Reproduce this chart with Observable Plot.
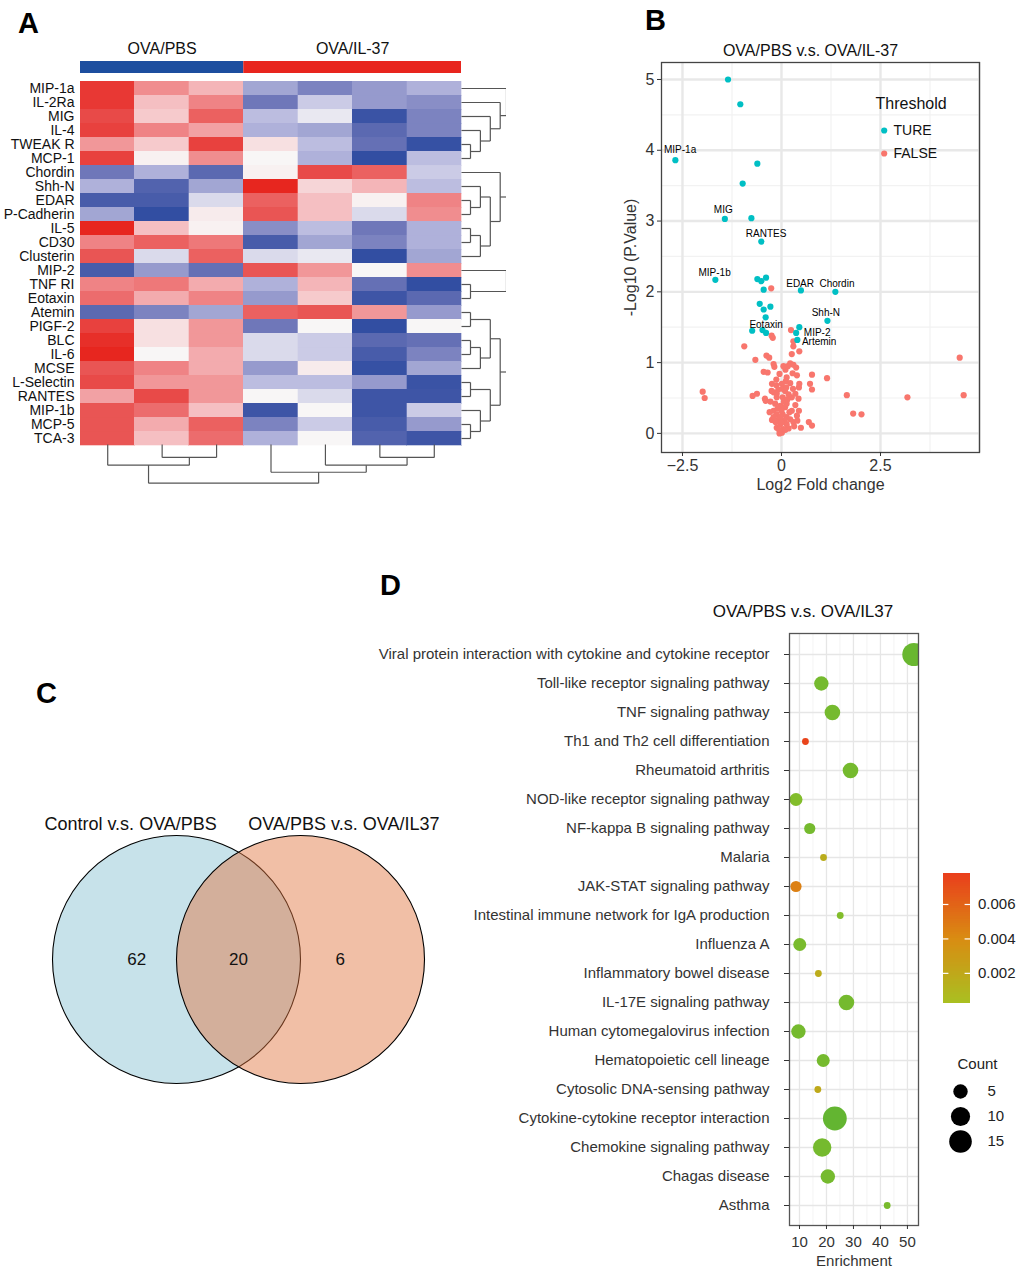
<!DOCTYPE html>
<html><head><meta charset="utf-8">
<script src="https://cdn.jsdelivr.net/npm/d3@7"></script>
<script src="https://cdn.jsdelivr.net/npm/@observablehq/plot@0.6"></script>
<style>
body{margin:0;background:#fff;}
#root{position:relative;width:1020px;height:1271px;overflow:hidden;background:#fff;font-family:"Liberation Sans",Arial,sans-serif;}
</style></head><body><div id="root"></div>
<script>
// ---------------- DATA ----------------
// Panel A: heatmap
const genes = ["MIP-1a","IL-2Ra","MIG","IL-4","TWEAK R","MCP-1","Chordin","Shh-N","EDAR","P-Cadherin","IL-5","CD30","Clusterin","MIP-2","TNF RI","Eotaxin","Atemin","PIGF-2","BLC","IL-6","MCSE","L-Selectin","RANTES","MIP-1b","MCP-5","TCA-3"];
const samples = ["1","2","3","4","5","6","7"];
const heatValues = [
  [1.8, 1.0, 0.6, -0.6, -0.9, -0.7, -0.5],
  [1.8, 0.5, 1.1, -1.0, -0.3, -0.7, -0.8],
  [1.6, 0.4, 1.4, -0.4, -0.1, -1.6, -0.9],
  [1.7, 1.1, 0.8, -0.5, -0.6, -1.2, -0.9],
  [0.9, 0.4, 1.7, 0.2, -0.4, -1.1, -1.7],
  [1.7, 0.05, 1.0, 0.0, -0.5, -1.8, -0.4],
  [-1.0, -0.5, -1.2, 0.05, 1.6, 1.4, -0.3],
  [-0.5, -1.3, -0.6, 2.0, 0.3, 0.6, -0.4],
  [-1.4, -1.4, -0.2, 1.4, 0.5, 0.05, 1.1],
  [-0.6, -1.8, 0.1, 1.5, 0.5, -0.2, 1.0],
  [2.0, 0.5, 0.05, -0.8, -0.4, -1.0, -0.5],
  [1.1, 1.4, 1.2, -1.4, -0.6, -0.9, -0.5],
  [1.5, -0.2, 1.4, -0.2, -0.1, -1.8, -0.6],
  [-1.4, -0.7, -1.1, 1.5, 0.9, 0.0, 1.0],
  [1.1, 1.2, 0.7, -0.5, 0.6, -1.1, -1.8],
  [1.3, 0.7, 1.1, -0.7, 0.4, -1.5, -1.2],
  [-1.2, -0.9, -0.6, 1.4, 1.5, 0.9, -0.7],
  [1.7, 0.2, 0.9, -1.0, 0.0, -1.8, 0.0],
  [1.9, 0.2, 0.9, -0.2, -0.3, -1.2, -1.1],
  [2.0, 0.0, 0.7, -0.2, -0.3, -1.4, -0.9],
  [1.5, 1.1, 0.7, -0.7, 0.1, -1.7, -0.6],
  [1.6, 0.9, 0.9, -0.4, -0.4, -0.7, -1.6],
  [0.8, 1.6, 0.9, 0.0, -0.2, -1.5, -1.5],
  [1.5, 1.3, 0.5, -1.5, 0.0, -1.5, -0.3],
  [1.5, 0.7, 1.4, -0.9, -0.3, -1.4, -0.7],
  [1.5, 0.5, 1.3, -0.5, 0.0, -1.3, -1.5]
];
const groupNames = ["OVA/PBS", "OVA/IL-37"];
const groupStart = [0, 3];
const groupEnd = [3, 7];
const groupColors = ["#1d4e9f", "#e8251e"];
// dendrograms: [height, left, right]
const rowTree = [6,
  [5.5, [5, "MIP-1a", [4.3, "IL-2Ra", [3.2, "MIG", [2.1, "IL-4", [1, "TWEAK R", "MCP-1"]]]]],
        [4.3, "Chordin", [3.2, [2.1, "Shh-N", [1, "EDAR", "P-Cadherin"]], [2.1, [1, "IL-5", "CD30"], "Clusterin"]]]],
  [5.5, [5, "MIP-2", [1, "TNF RI", "Eotaxin"]],
        [4.3, [3.2, [1, "Atemin", "PIGF-2"], [2.1, [1, "BLC", "IL-6"], "MCSE"]],
              [3.2, [1, "L-Selectin", "RANTES"], [2.1, "MIP-1b", [1, "MCP-5", "TCA-3"]]]]]];
const colTree = [3.0, [1.6, "1", [1, "2", "3"]], [2.15, "4", [1.6, "5", [1, "6", "7"]]]];

// Panel B: volcano
const trueX = [-1.35,-1.04,-2.68,-0.61,-0.98,-1.43,-0.76,-0.51,-1.67,-0.61,-0.51,-0.39,-0.45,0.49,1.36,-0.55,-0.28,-0.45,-0.40,1.16,0.45,-0.74,-0.48,-0.39,0.37,0.40];
const trueY = [5.00,4.65,3.86,3.81,3.53,3.03,3.04,2.71,2.17,2.18,2.15,2.20,2.03,2.02,2.00,1.83,1.79,1.75,1.64,1.59,1.50,1.45,1.46,1.42,1.42,1.32];
const falseX = [-0.26,0.24,-0.25,-0.22,0.30,0.30,0.45,-0.94,0.26,-0.38,-0.31,-0.66,0.22,0.30,0.37,0.16,-0.20,-0.18,-0.45,0.39,0.77,1.15,4.50,4.60,3.18,1.65,1.81,2.02,-1.99,-1.94,-0.73,-0.62,-0.42,-0.40,0.72,0.77,0.69,0.77,0.49,
  -0.13,-0.24,-0.13,0.13,0.11,0.22,0.29,0.44,-0.20,-0.12,0.09,0.03,0.26,0.43,0.44,0.39,-0.20,-0.12,-0.07,0.13,0.26,0.18,-0.12,0.01,0.05,-0.03,-0.16,-0.03,0.09,-0.12,-0.24,0.13,0.01,0.03,-0.05,0.10,-0.35,0.35,-0.20,0.30,0.03,0.08,-0.02,0.13,0.22,-0.05,0.45,0.06,-0.08,0.18,0.35,-0.28,0.20,-0.10,0.00,0.10,-0.06,0.15,-0.25,0.28,0.05,-0.15,0.32,0.40,-0.30,0.00,0.12];
const falseY = [2.05,1.46,1.38,1.35,1.30,1.23,1.16,1.23,1.12,1.10,1.07,1.04,0.99,0.97,0.93,0.95,0.98,0.94,0.87,0.82,0.83,0.78,1.07,0.54,0.51,0.54,0.28,0.27,0.59,0.50,0.53,0.56,0.49,0.46,0.70,0.62,0.16,0.11,0.08,
  0.76,0.70,0.68,0.79,0.74,0.71,0.63,0.65,0.58,0.56,0.60,0.51,0.51,0.49,0.32,0.25,0.32,0.27,0.20,0.23,0.32,0.07,0.08,0.01,0.06,0.13,0.42,0.39,0.37,0.51,0.19,0.42,0.70,0.63,0.84,0.90,0.86,0.56,0.23,0.16,0.27,0.18,0.23,0.13,0.20,0.00,0.70,0.45,0.62,0.55,0.40,0.45,0.30,0.35,0.15,0.05,0.05,0.48,0.60,0.85,0.95,0.16,0.10,0.18,0.30,0.32,0.65];
const volcanoLabels = ["MIP-1a","MIG","RANTES","MIP-1b","EDAR","Chordin","Shh-N","Eotaxin","MIP-2","Artemin"];
const volcanoLabelX = [-2.56,-1.47,-0.39,-1.69,0.47,1.40,1.12,-0.39,0.90,0.95];
const volcanoLabelY = [4.01,3.16,2.82,2.27,2.11,2.11,1.70,1.54,1.42,1.29];
const thresholdKeys = ["TURE", "FALSE"];
const thresholdColors = ["#00BFC4", "#F8766D"];
const volcanoMajorX = [-2.5, 0, 2.5, 5];
const volcanoMinorX = [-1.25, 1.25, 3.75];
const volcanoMajorY = [0, 1, 2, 3, 4, 5];
const volcanoMinorY = [0.5, 1.5, 2.5, 3.5, 4.5];

// Panel C: Venn
const vennSets = ["Control v.s. OVA/PBS", "OVA/PBS v.s. OVA/IL37"];
const vennFills = ["#c7e2ea", "rgba(225,117,63,0.464)"];
const vennRegionCounts = [62, 20, 6];
const vennRegionSets = [[0], [0, 1], [1]];

// Panel D: KEGG dot plot
const pathways = ["Viral protein interaction with cytokine and cytokine receptor","Toll-like receptor signaling pathway","TNF signaling pathway","Th1 and Th2 cell differentiation","Rheumatoid arthritis","NOD-like receptor signaling pathway","NF-kappa B signaling pathway","Malaria","JAK-STAT signaling pathway","Intestinal immune network for IgA production","Influenza A","Inflammatory bowel disease","IL-17E signaling pathway","Human cytomegalovirus infection","Hematopoietic cell lineage","Cytosolic DNA-sensing pathway","Cytokine-cytokine receptor interaction","Chemokine signaling pathway","Chagas disease","Asthma"];
const enrichment = [52.4,18.1,22.2,12.2,28.9,8.7,13.8,18.9,8.7,25.1,10.1,17.0,27.4,9.6,18.8,16.8,23.1,18.4,20.5,42.5];
const counts = [16,5,6,2,6,4,3,2,3,2,4,2,6,5,4,2,17,9,5,2];
const pvalues = [0.00005,0.0001,0.0001,0.0075,0.0001,0.00016,0.0001,0.0016,0.0046,0.00016,0.00012,0.0017,0.0001,0.0001,0.0001,0.0019,0.00002,0.0001,0.0001,0.00012];
const enrichMajor = [10, 20, 30, 40, 50];
const enrichMinor = [15, 25, 35, 45];
const pLegendTicks = [0.002, 0.004, 0.006];
const countLegend = [5, 10, 15];

// ---------------- HELPERS ----------------
const root = document.getElementById("root");
function place(node, left, top) {
  node.style.position = "absolute";
  node.style.left = left + "px";
  node.style.top = top + "px";
  root.appendChild(node);
}
const FONT = "'Liberation Sans', Arial, sans-serif";
const baseStyle = {fontFamily: FONT, fontSize: "14px", color: "#000", background: "transparent", overflow: "visible"};

function dendroSegments(tree, leafIndex) {
  const segs = [];
  (function walk(node) {
    if (typeof node === "string") return {pos: leafIndex(node) + 0.5, h: 0};
    const [h, a, b] = node;
    const A = walk(a), B = walk(b);
    segs.push({p1: A.pos, h1: A.h, p2: A.pos, h2: h});
    segs.push({p1: B.pos, h1: B.h, p2: B.pos, h2: h});
    segs.push({p1: A.pos, h1: h, p2: B.pos, h2: h});
    return {pos: (A.pos + B.pos) / 2, h};
  })(tree);
  return segs;
}

// ---------------- PANEL A ----------------
const heatCells = genes.flatMap((g, i) => heatValues[i].map((v, j) => ({gene: g, col: j, value: v})));
const heatColor = {type: "linear", domain: [-2, -1.5, -1, -0.4, 0, 0.5, 1.1, 1.6, 2],
  range: ["#2a4aa0", "#3e55a6", "#6f77b9", "#bcbde0", "#f8f6f6", "#f5bfc2", "#ef8385", "#e84a48", "#e7261f"], clamp: true};

place(Plot.plot({
  width: 470, height: 445, marginLeft: 80, marginRight: 9, marginTop: 81, marginBottom: 0,
  style: baseStyle,
  x: {domain: [0, samples.length], axis: null},
  y: {type: "band", domain: genes, padding: 0},
  color: heatColor,
  marks: [
    Plot.barX(heatCells, {x1: "col", x2: d => d.col + 1, y: "gene", fill: "value", stroke: "value", strokeWidth: 0.3, shapeRendering: "crispEdges"}),
    Plot.axisY({tickSize: 0, tickPadding: 6, fontSize: 14, color: "#111", label: null})
  ]
}), 0, 0);

place(Plot.plot({
  width: 470, height: 75, marginLeft: 80, marginRight: 9, marginTop: 61, marginBottom: 2,
  style: baseStyle,
  x: {domain: [0, samples.length], axis: null},
  y: {type: "band", domain: ["bar"], padding: 0, axis: null},
  color: {type: "identity"},
  marks: [
    Plot.barX(groupNames, {x1: (d, i) => groupStart[i], x2: (d, i) => groupEnd[i], y: () => "bar", fill: (d, i) => groupColors[i]}),
    Plot.text(groupNames, {x: (d, i) => (groupStart[i] + groupEnd[i]) / 2, y: () => "bar", dy: -19, fontSize: 16, fill: "#111"})
  ]
}), 0, 0);

place(Plot.plot({
  width: 520, height: 450, marginLeft: 461, marginRight: 14, marginTop: 0, marginBottom: 0,
  style: baseStyle,
  x: {domain: [0, 5], axis: null},
  y: {domain: [0, genes.length], range: [81, 445], axis: null},
  marks: [
    Plot.link(dendroSegments(rowTree, n => genes.indexOf(n)), {x1: "h1", x2: "h2", y1: "p1", y2: "p2", stroke: "#555", strokeWidth: 1.2, clip: true})
  ]
}), 0, 0);

place(Plot.plot({
  width: 470, height: 490, marginLeft: 80, marginRight: 9, marginTop: 0, marginBottom: 0,
  style: baseStyle,
  x: {domain: [0, samples.length], axis: null},
  y: {domain: [0, 3.1], range: [444, 484], axis: null},
  marks: [
    Plot.link(dendroSegments(colTree, n => samples.indexOf(n)), {x1: "p1", x2: "p2", y1: "h1", y2: "h2", stroke: "#555", strokeWidth: 1.2})
  ]
}), 0, 0);

// ---------------- PANEL B ----------------
const truePts = trueX.map((x, i) => ({x, y: trueY[i]}));
const falsePts = falseX.map((x, i) => ({x, y: falseY[i]}));
const labelPts = volcanoLabels.map((t, i) => ({t, x: volcanoLabelX[i], y: volcanoLabelY[i]}));

place(Plot.plot({
  width: 400, height: 470, marginLeft: 61, marginRight: 21, marginTop: 32, marginBottom: 48,
  style: {...baseStyle, fontSize: "16px"},
  x: {domain: [-3.03, 5.0]},
  y: {domain: [-0.27, 5.24]},
  marks: [
    Plot.ruleX(volcanoMinorX, {stroke: "#f2f2f2", strokeWidth: 1.2}),
    Plot.ruleY(volcanoMinorY, {stroke: "#f2f2f2", strokeWidth: 1.2}),
    Plot.ruleX(volcanoMajorX, {stroke: "#e8e8e8", strokeWidth: 2.4}),
    Plot.ruleY(volcanoMajorY, {stroke: "#e8e8e8", strokeWidth: 2.4}),
    Plot.dot(falsePts, {x: "x", y: "y", r: 3.1, fill: thresholdColors[1]}),
    Plot.dot(truePts, {x: "x", y: "y", r: 3.1, fill: thresholdColors[0]}),
    Plot.text(labelPts, {x: "x", y: "y", text: "t", fontSize: 10, fill: "#000"}),
    Plot.frame({stroke: "#444", strokeWidth: 1.3}),
    Plot.axisX({ticks: [-2.5, 0, 2.5], tickFormat: d => d === 0 ? "0" : d3.format(".1f")(d), tickSize: 4, tickPadding: 3, fontSize: 16, color: "#333",
      label: "Log2 Fold change", labelAnchor: "center", labelArrow: "none", labelOffset: 37}),
    Plot.axisY({ticks: volcanoMajorY, tickFormat: d3.format("d"), tickSize: 4, tickPadding: 3, fontSize: 16, color: "#333",
      label: "-Log10 (P.Value)", labelAnchor: "center", labelArrow: "none", labelOffset: 37}),
    Plot.text(["OVA/PBS v.s. OVA/IL-37"], {frameAnchor: "top", lineAnchor: "middle", dx: -10, dy: -12, fontSize: 16, fill: "#111"})
  ]
}), 600, 30);

place(Plot.plot({
  width: 100, height: 75, margin: 0,
  style: baseStyle,
  x: {axis: null},
  y: {type: "point", domain: thresholdKeys, range: [40, 63], padding: 0, axis: null},
  color: {type: "identity"},
  marks: [
    Plot.text(["Threshold"], {frameAnchor: "top-left", lineAnchor: "middle", dx: 5, dy: 13, textAnchor: "start", fontSize: 16, fill: "#111"}),
    Plot.dot(thresholdKeys, {y: d => d, frameAnchor: "left", dx: 13.7, r: 3.1, fill: (d, i) => thresholdColors[i]}),
    Plot.text(thresholdKeys, {y: d => d, frameAnchor: "left", dx: 23, textAnchor: "start", fontSize: 14, fill: "#111"})
  ]
}), 870, 90);

// ---------------- PANEL C ----------------
place(Plot.plot({
  width: 460, height: 310, margin: 0,
  style: baseStyle,
  x: {domain: [-1, 2], range: [52, 424], axis: null},
  y: {domain: [-1, 1], range: [293, 45], axis: null},
  color: {type: "identity"},
  marks: [
    Plot.dot(vennSets, {x: (d, i) => i, y: () => 0, r: 124, fill: (d, i) => vennFills[i], stroke: "#000", strokeWidth: 1.1}),
    Plot.text(vennSets, {x: (d, i) => i + (i === 0 ? -0.37 : 0.35), y: () => 1, dy: -11, fontSize: 18, fill: "#111"}),
    Plot.text(vennRegionCounts, {x: (d, i) => vennRegionSets[i].length === 2 ? 0.5 : vennRegionSets[i][0] + (vennRegionSets[i][0] === 0 ? -0.32 : 0.32),
      y: () => 0, text: d => String(d), fontSize: 17, fill: "#111"})
  ]
}), 0, 790);

// ---------------- PANEL D ----------------
const minCount = d3.min(counts), maxCount = d3.max(counts);
const rScale = {type: "pow", exponent: 0.5, domain: [0, maxCount - minCount], range: [3.4, 11.9]};
const pColor = {type: "linear", domain: [0, 0.0002, 0.00025, 0.004, 0.0078], range: ["#5eb432", "#8bbf29", "#a9c021", "#d98c12", "#ea3e1c"], clamp: true};
const keggRows = pathways.map((p, i) => ({pathway: p, enrichment: enrichment[i], count: counts[i], p: pvalues[i]}));

place(Plot.plot({
  width: 660, height: 676, marginLeft: 429, marginRight: 102, marginTop: 38, marginBottom: 46,
  style: {...baseStyle, fontSize: "15px"},
  x: {domain: [6.3, 54.1]},
  y: {type: "point", domain: pathways, padding: 0.6},
  r: rScale,
  color: pColor,
  marks: [
    Plot.ruleX(enrichMinor, {stroke: "#f0f0f0", strokeWidth: 0.8}),
    Plot.ruleX(enrichMajor, {stroke: "#e6e6e6", strokeWidth: 1.3}),
    Plot.ruleY(pathways, {y: d => d, stroke: "#e6e6e6", strokeWidth: 1.3}),
    Plot.dot(keggRows, {x: "enrichment", y: "pathway", r: d => d.count - minCount, fill: "p", clip: true}),
    Plot.frame({stroke: "#555", strokeWidth: 1.3}),
    Plot.axisY({tickSize: 5, tickPadding: 15, fontSize: 15, color: "#333", label: null}),
    Plot.axisX({ticks: enrichMajor, tickSize: 4, tickPadding: 7, fontSize: 15, color: "#333",
      label: "Enrichment", labelAnchor: "center", labelArrow: "none", labelOffset: 40}),
    Plot.text(["OVA/PBS v.s. OVA/IL37"], {frameAnchor: "top", lineAnchor: "middle", dx: -51, dy: -22, fontSize: 17, fill: "#111"})
  ]
}), 360, 595);

// colour bar legend
const pLo = 0.00025, pHi = 0.0078, pStep = (pHi - pLo) / 60;
const pSteps = d3.range(pLo, pHi - pStep / 2, pStep);
place(Plot.plot({
  width: 90, height: 160, margin: 0,
  style: {...baseStyle, fontSize: "15px"},
  x: {type: "band", domain: ["bar"], range: [13, 40], padding: 0, axis: null},
  y: {domain: [pLo, pHi], range: [143, 13], axis: null},
  color: pColor,
  marks: [
    Plot.barY(pSteps, {x: () => "bar", y1: d => d, y2: d => Math.min(pHi, d + pStep * 2), fill: d => d + pStep / 2, shapeRendering: "crispEdges"}),
    Plot.tickY(pLegendTicks, {x: () => "bar", y: d => d, stroke: "#fff", strokeWidth: 1.2, insetRight: 21.6}),
    Plot.tickY(pLegendTicks, {x: () => "bar", y: d => d, stroke: "#fff", strokeWidth: 1.2, insetLeft: 21.6}),
    Plot.text(pLegendTicks, {x: () => "bar", y: d => d, dx: 21, textAnchor: "start", text: d => d3.format(".3f")(d), fontSize: 15, fill: "#222"})
  ]
}), 930, 860);

// count legend
place(Plot.plot({
  width: 90, height: 120, margin: 0,
  style: {...baseStyle, fontSize: "15px"},
  x: {axis: null},
  y: {type: "point", domain: countLegend, range: [40, 91], padding: 0, axis: null},
  r: rScale,
  marks: [
    Plot.text(["Count"], {frameAnchor: "top-left", lineAnchor: "middle", textAnchor: "middle", dx: 47, dy: 14, fontSize: 15, fill: "#222"}),
    Plot.dot(countLegend, {y: d => d, frameAnchor: "left", dx: 30, r: d => d - minCount, fill: "#000"}),
    Plot.text(countLegend, {y: d => d, frameAnchor: "left", dx: 57, textAnchor: "start", fontSize: 15, fill: "#222"})
  ]
}), 930, 1050);

// ---------------- PANEL LETTERS ----------------
const letters = d3.create("svg").attr("width", 1020).attr("height", 1271)
  .style("position", "absolute").style("left", "0px").style("top", "0px").style("pointer-events", "none");
const letterData = [["A", 18, 33], ["B", 645, 30], ["C", 36, 703], ["D", 380, 595]];
letters.selectAll("text").data(letterData).join("text")
  .attr("x", d => d[1]).attr("y", d => d[2]).text(d => d[0])
  .attr("font-family", FONT).attr("font-weight", "bold").attr("font-size", 29).attr("fill", "#000");
root.appendChild(letters.node());
</script></body></html>
